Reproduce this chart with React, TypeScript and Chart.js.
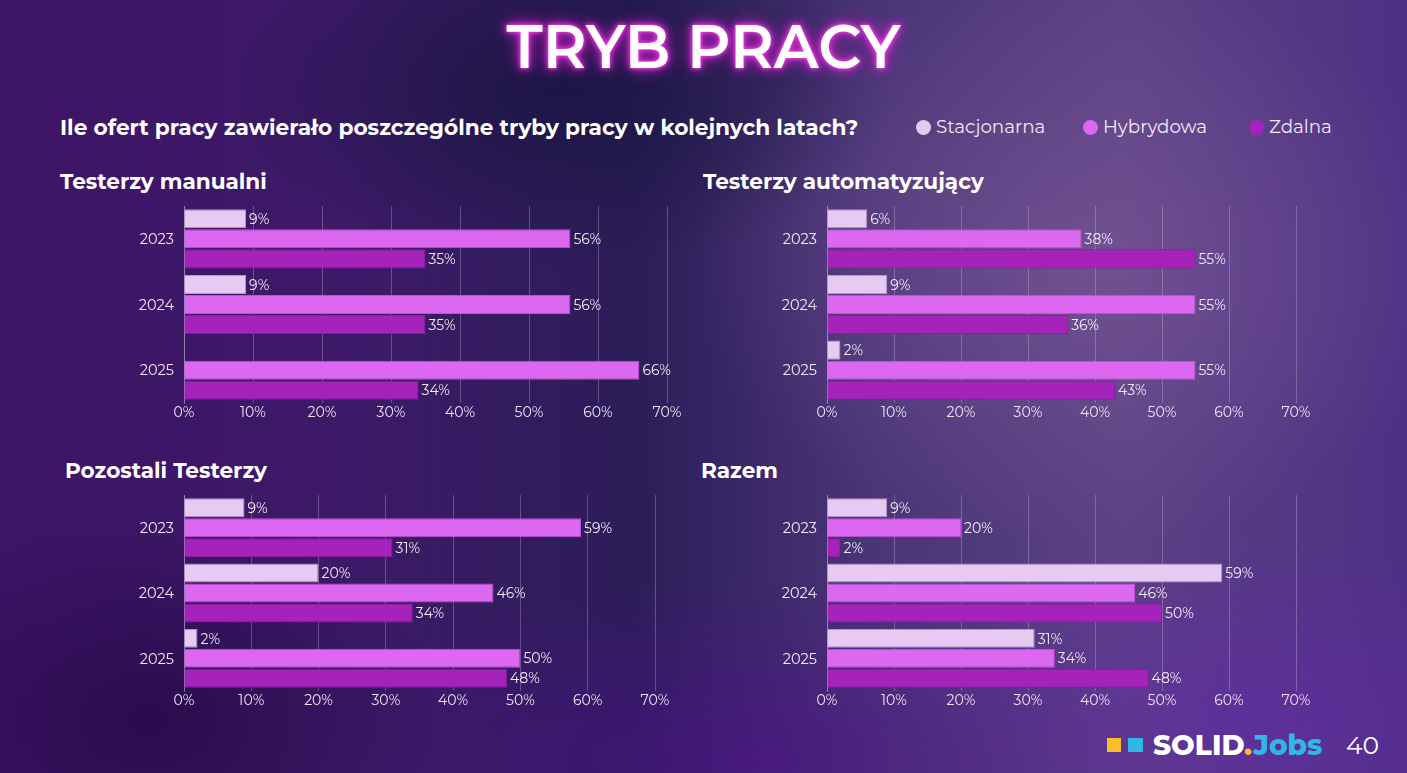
import React, { useEffect, useRef } from "react";
import { Chart, registerables } from "chart.js";

Chart.register(...registerables);

const years = ["2023", "2024", "2025"];
const seriesNames = ["Stacjonarna", "Hybrydowa", "Zdalna"];
const xTicks = [0, 10, 20, 30, 40, 50, 60, 70];

const manualStac = [9, 9, null];
const manualHyb = [56, 56, 66];
const manualZdal = [35, 35, 34];

const autoStac = [6, 9, 2];
const autoHyb = [38, 55, 55];
const autoZdal = [55, 36, 43];

const otherStac = [9, 20, 2];
const otherHyb = [59, 46, 50];
const otherZdal = [31, 34, 48];

const totalStac = [9, 59, 31];
const totalHyb = [20, 46, 34];
const totalZdal = [2, 50, 48];

const COLORS = ["#e7caf2", "#dc68f1", "#a623bb"];
const BORDERS = ["#b994c8", "#c04fd8", "#8c1aa2"];
const FONT = "Montserrat, 'Open Sans', 'Noto Sans', sans-serif";

const valueLabels = {
  id: "valueLabels",
  afterDatasetsDraw(chart: any) {
    const ctx = chart.ctx;
    ctx.save();
    ctx.font = `400 14px ${FONT}`;
    ctx.fillStyle = "#f3eaf7";
    ctx.textAlign = "left";
    ctx.textBaseline = "middle";
    chart.data.datasets.forEach((ds: any, i: number) => {
      const meta = chart.getDatasetMeta(i);
      meta.data.forEach((el: any, j: number) => {
        const v = ds.data[j];
        if (v === null || v === undefined) return;
        ctx.fillText(`${v}%`, el.x + 3, el.y + 1);
      });
    });
    // category labels drawn through the y scale
    const ys = chart.scales.y;
    ctx.font = `400 14.5px ${FONT}`;
    ctx.fillStyle = "#f1e8f5";
    ctx.textAlign = "right";
    chart.data.labels.forEach((l: string, i: number) => {
      ctx.fillText(l, ys.right - 10, ys.getPixelForValue(i) + 1);
    });
    ctx.restore();
  },
};

type PanelProps = {
  stac: (number | null)[];
  hyb: (number | null)[];
  zdal: (number | null)[];
  left: number;
  top: number;
  right: number;
  bottom: number;
};

const Y_AXIS_W = 64;
const X_AXIS_H = 24;
const PAD_TOP = 6;
const PAD_RIGHT = 44;

function Panel({ stac, hyb, zdal, left, top, right, bottom }: PanelProps) {
  const ref = useRef<HTMLCanvasElement | null>(null);
  const cw = Math.round(right - left + Y_AXIS_W + PAD_RIGHT);
  const ch = Math.round(bottom - top + PAD_TOP + X_AXIS_H);
  useEffect(() => {
    if (!ref.current) return;
    const chart = new Chart(ref.current, {
      type: "bar",
      data: {
        labels: years,
        datasets: [stac, hyb, zdal].map((d, i) => ({
          label: seriesNames[i],
          data: d as any,
          backgroundColor: COLORS[i],
          borderColor: BORDERS[i],
          borderWidth: 1,
          categoryPercentage: 0.916,
          barPercentage: 0.95,
        })),
      },
      options: {
        indexAxis: "y",
        animation: false,
        responsive: false,
        maintainAspectRatio: false,
        layout: { padding: { left: 0, top: PAD_TOP, right: PAD_RIGHT, bottom: 0 } },
        plugins: {
          legend: { display: false },
          tooltip: { enabled: false },
          title: { display: false },
        },
        scales: {
          x: {
            min: 0,
            max: 70,
            afterFit(scale: any) {
              scale.height = X_AXIS_H;
            },
            afterBuildTicks(scale: any) {
              scale.ticks = xTicks.map((v) => ({ value: v }));
            },
            ticks: {
              color: "#ece3f2",
              font: { family: FONT, size: 14 },
              padding: 1,
              callback: (v: any) => `${v}%`,
            },
            grid: {
              color: "rgba(235,215,245,0.28)",
              lineWidth: 1,
              drawTicks: false,
            },
            border: { display: false },
          },
          y: {
            afterFit(scale: any) {
              scale.width = Y_AXIS_W;
            },
            ticks: { display: false },
            grid: { display: false, drawTicks: false },
            border: { display: true, color: "rgba(235,215,245,0.35)" },
          },
        },
      },
      plugins: [valueLabels],
    });
    return () => chart.destroy();
  }, []);
  return (
    <canvas
      ref={ref}
      width={cw}
      height={ch}
      style={{
        position: "absolute",
        left: left - Y_AXIS_W,
        top: top - PAD_TOP,
        width: cw,
        height: ch,
      }}
    />
  );
}

const heading: React.CSSProperties = {
  position: "absolute",
  color: "#ffffff",
  fontFamily: FONT,
  fontWeight: 700,
  fontSize: 21.6,
  margin: 0,
  whiteSpace: "nowrap",
  lineHeight: "26px",
};

export default function App() {
  return (
    <div
      style={{
        position: "fixed",
        left: 0,
        top: 0,
        width: 1407,
        height: 773,
        overflow: "hidden",
        fontFamily: FONT,
        background:
          "radial-gradient(ellipse 520px 380px at 1080px 260px, rgba(140,100,165,0.45), rgba(0,0,0,0) 75%)," +
          "radial-gradient(ellipse 480px 260px at 560px 90px, rgba(22,20,60,0.75), rgba(0,0,0,0) 70%)," +
          "radial-gradient(ellipse 420px 300px at 150px 720px, rgba(30,5,60,0.6), rgba(0,0,0,0) 70%)," +
          "radial-gradient(ellipse 500px 260px at 1250px 720px, rgba(100,40,170,0.6), rgba(0,0,0,0) 70%)," +
          "radial-gradient(ellipse 600px 260px at 750px 760px, rgba(80,15,140,0.6), rgba(0,0,0,0) 70%)," +
          "linear-gradient(90deg, #3e1467 0%, #3d1a68 25%, #2c1d58 45%, #4a3577 62%, #5b4283 80%, #4e3084 100%)",
      }}
    >
      <div
        style={{
          position: "absolute",
          left: 0,
          width: 1407,
          top: 10,
          textAlign: "center",
          color: "#fff",
          fontWeight: 600,
          fontSize: 60,
          lineHeight: "74px",
          textShadow: "0 0 4px #ff4ff0, 0 0 10px #e02ad6, 0 0 18px #c21ac0",
        }}
      >
        TRYB PRACY
      </div>
      <div style={{ ...heading, left: 60, top: 114, fontSize: 21.7 }}>
        Ile ofert pracy zawierało poszczególne tryby pracy w kolejnych latach?
      </div>
      {seriesNames.map((n, i) => {
        const xs = [916, 1083, 1249];
        return (
          <div
            key={n}
            style={{
              position: "absolute",
              left: xs[i],
              top: 114,
              display: "flex",
              alignItems: "center",
              color: "#f1e8f5",
              fontSize: 18.3,
              lineHeight: "26px",
              whiteSpace: "nowrap",
            }}
          >
            <span
              style={{
                display: "inline-block",
                width: 15,
                height: 15,
                borderRadius: "50%",
                background: COLORS[i],
                marginRight: 5,
              }}
            />
            {n}
          </div>
        );
      })}
      <div style={{ ...heading, left: 60, top: 168 }}>Testerzy manualni</div>
      <div style={{ ...heading, left: 703, top: 168 }}>Testerzy automatyzujący</div>
      <div style={{ ...heading, left: 65, top: 457 }}>Pozostali Testerzy</div>
      <div style={{ ...heading, left: 701, top: 457 }}>Razem</div>

      <Panel stac={manualStac} hyb={manualHyb} zdal={manualZdal} left={184} right={667} top={205.5} bottom={402} />
      <Panel stac={autoStac} hyb={autoHyb} zdal={autoZdal} left={827} right={1296} top={205.5} bottom={402} />
      <Panel stac={otherStac} hyb={otherHyb} zdal={otherZdal} left={184} right={655} top={494.5} bottom={690} />
      <Panel stac={totalStac} hyb={totalHyb} zdal={totalZdal} left={827} right={1296} top={494.5} bottom={690} />

      <div style={{ position: "absolute", left: 1107, top: 738, width: 14, height: 14, background: "#fbbd2a" }} />
      <div style={{ position: "absolute", left: 1128, top: 738, width: 15, height: 14, background: "#32b6e6" }} />
      <div
        style={{
          position: "absolute",
          left: 1153,
          top: 729,
          fontSize: 28,
          fontWeight: 800,
          lineHeight: "32px",
          color: "#fff",
          whiteSpace: "nowrap",
        }}
      >
        SOLID<span style={{ color: "#fbbd2a" }}>.</span>
        <span style={{ color: "#32b6e6" }}>Jobs</span>
      </div>
      <div
        style={{
          position: "absolute",
          left: 1346,
          top: 730,
          fontSize: 25,
          lineHeight: "30px",
          color: "#fff",
        }}
      >
        40
      </div>
    </div>
  );
}
